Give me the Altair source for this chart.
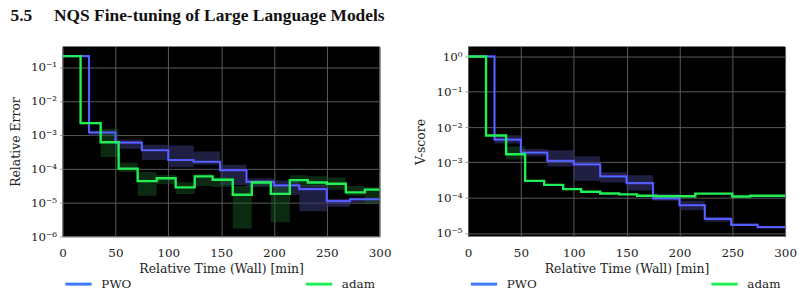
import altair as alt
import pandas as pd

# ---------------- data ----------------
series_names = ["PWO", "adam"]

# Relative Error panel
err_pwo_t = [0, 25, 50, 75, 100, 124, 149, 174, 200, 224, 250, 272, 300]
err_pwo_y = [0.21, 1.17e-3, 5.9e-4, 3.5e-4, 1.8e-4, 1.6e-4, 9e-5, 4.1e-5, 3.2e-5, 2.5e-5, 1.1e-5, 1.25e-5, 1.25e-5]
err_pwo_lo = [0.2, 9.2e-4, 3.9e-4, 1.8e-4, 1.1e-4, 1.3e-4, 3.3e-5, 2.9e-5, 1.7e-5, 5.5e-6, 7.5e-6, 1.0e-5, 1.0e-5]
err_pwo_hi = [0.22, 1.33e-3, 7.3e-4, 5.1e-4, 4.8e-4, 3.2e-4, 1.3e-4, 5.1e-5, 4.5e-5, 3.3e-5, 1.3e-5, 1.4e-5, 1.4e-5]

err_adam_t = [0, 17, 36, 53, 71, 89, 107, 125, 142, 161, 179, 197, 215, 232, 250, 268, 286, 300]
err_adam_y = [0.21, 2.2e-3, 6e-4, 1e-4, 4.3e-5, 5.2e-5, 2.8e-5, 5.9e-5, 4.7e-5, 1.7e-5, 3.9e-5, 1.8e-5, 4.6e-5, 3.9e-5, 3.6e-5, 2.0e-5, 2.4e-5, 2.4e-5]
err_adam_lo = [0.2, 2.0e-3, 2.2e-4, 8e-5, 1.6e-5, 3.5e-5, 1.8e-5, 3.1e-5, 2.9e-5, 1.7e-6, 3.2e-5, 2.6e-6, 3.1e-5, 3.0e-5, 2.4e-5, 1.6e-5, 9.4e-6, 9.4e-6]
err_adam_hi = [0.22, 2.4e-3, 1.5e-3, 1.5e-4, 8e-5, 6.5e-5, 4e-5, 7e-5, 5.6e-5, 3.1e-5, 4.6e-5, 3.1e-5, 6.4e-5, 6.0e-5, 5.5e-5, 3.1e-5, 2.9e-5, 2.9e-5]

# V-score panel
vs_pwo_t = [0, 25, 50, 75, 100, 125, 150, 175, 200, 224, 249, 274, 300]
vs_pwo_y = [1.0, 4.4e-3, 1.9e-3, 1.1e-3, 8.8e-4, 4e-4, 2.6e-4, 9.6e-5, 6.1e-5, 2.5e-5, 1.7e-5, 1.47e-5, 1.47e-5]
vs_pwo_lo = [0.95, 3.4e-3, 1.5e-3, 7.7e-4, 3e-4, 2.7e-4, 1.6e-4, 8.2e-5, 4.4e-5, 2.1e-5, 1.6e-5, 1.4e-5, 1.4e-5]
vs_pwo_hi = [1.05, 5.9e-3, 2.4e-3, 2.2e-3, 1.5e-3, 5.3e-4, 4.3e-4, 1.3e-4, 8.2e-5, 2.8e-5, 1.85e-5, 1.55e-5, 1.55e-5]

vs_adam_t = [0, 17, 36, 54, 72, 90, 107, 125, 143, 160, 178, 215, 250, 267, 300]
vs_adam_y = [1.0, 5.8e-3, 1.7e-3, 3e-4, 2.3e-4, 1.75e-4, 1.47e-4, 1.32e-4, 1.24e-4, 1.14e-4, 1.1e-4, 1.3e-4, 1.08e-4, 1.14e-4, 1.14e-4]
vs_adam_lo = [0.97, 5.5e-3, 1.2e-3, 2.8e-4, 2.2e-4, 1.65e-4, 1.4e-4, 1.27e-4, 1.19e-4, 1.1e-4, 1.06e-4, 1.24e-4, 1.04e-4, 1.1e-4, 1.1e-4]
vs_adam_hi = [1.03, 6.1e-3, 2.8e-3, 3.2e-4, 2.4e-4, 1.85e-4, 1.55e-4, 1.37e-4, 1.29e-4, 1.18e-4, 1.14e-4, 1.36e-4, 1.12e-4, 1.18e-4, 1.18e-4]

x_ticks = [0, 50, 100, 150, 200, 250, 300]
sup_labels = ["10\u207b\u2076", "10\u207b\u2075", "10\u207b\u2074", "10\u207b\u00b3", "10\u207b\u00b2", "10\u207b\u00b9", "10\u2070"]

# ---------------- style ----------------
SERIF = "DejaVu Serif, Liberation Serif, serif"
PURPLE = "#6a40ff"
GREEN = "#22ee55"


def frame(t, y, lo, hi, name):
    return pd.DataFrame({"t": t, "y": y, "lo": lo, "hi": hi, "series": name})


def panel(df_pwo, df_adam, ytitle, ydom, yvals):
    xs = alt.Scale(domain=[0, 300], nice=False, zero=False)
    ys = alt.Scale(type="log", domain=ydom, nice=False)
    cs = alt.Scale(domain=series_names, range=["#3d7cff", GREEN])
    x_enc = alt.X(
        "t:Q", scale=xs,
        axis=alt.Axis(values=x_ticks, title="Relative Time (Wall) [min]", grid=True,
                      labelFont=SERIF, labelFontSize=12, titleFont=SERIF, titleFontSize=12.5,
                      titleFontWeight="normal", labelColor="#222", titleColor="#222",
                      domain=False, ticks=False, labelPadding=11, titlePadding=4,
                      gridColor="#5a5a5a", gridWidth=1, labelFlush=False),
    )
    y_axis = alt.Axis(values=yvals, title=ytitle, grid=True,
                      labelExpr="%s[round(log(datum.value)/LN10)+6]" % str(sup_labels).replace('"', "'"),
                      labelFont=SERIF, labelFontSize=12, titleFont=SERIF, titleFontSize=12.5,
                      titleFontWeight="normal", labelColor="#222", titleColor="#222",
                      domain=False, ticks=True, tickSize=3, tickColor="#999", labelPadding=3,
                      titlePadding=8, gridColor="#5a5a5a", gridWidth=1)

    band_pwo = alt.Chart(df_pwo).mark_area(interpolate="step-after", color="#34346e", opacity=0.6, clip=True).encode(
        x=x_enc, y=alt.Y("lo:Q", scale=ys, axis=y_axis), y2="hi:Q")
    band_adam = alt.Chart(df_adam).mark_area(interpolate="step-after", color="#1a5e28", opacity=0.45, clip=True).encode(
        x=x_enc, y=alt.Y("lo:Q", scale=ys), y2="hi:Q")

    legend = alt.Legend(orient="none", legendX=1, legendY=224, direction="horizontal", columns=2,
                        columnPadding=168, title=None, symbolType="stroke", symbolStrokeWidth=3,
                        symbolSize=700, labelFont=SERIF, labelFontSize=12, labelColor="#222",
                        labelOffset=8)
    pwo_edge = alt.Chart(df_pwo).mark_line(interpolate="step-after", strokeWidth=2.2, color=PURPLE, clip=True).encode(
        x=x_enc, y=alt.Y("y:Q", scale=ys))
    pwo_core = alt.Chart(df_pwo).mark_line(interpolate="step-after", strokeWidth=1.0, clip=True).encode(
        x=x_enc, y=alt.Y("y:Q", scale=ys),
        color=alt.Color("series:N", scale=cs, legend=legend))
    adam_line = alt.Chart(df_adam).mark_line(interpolate="step-after", strokeWidth=2.4, clip=True).encode(
        x=x_enc, y=alt.Y("y:Q", scale=ys),
        color=alt.Color("series:N", scale=cs, legend=legend))

    return alt.layer(band_pwo, band_adam, pwo_edge, pwo_core, adam_line).properties(width=319, height=191)


left = panel(frame(err_pwo_t, err_pwo_y, err_pwo_lo, err_pwo_hi, "PWO"),
             frame(err_adam_t, err_adam_y, err_adam_lo, err_adam_hi, "adam"),
             "Relative Error", [1e-6, 0.4], [1e-6, 1e-5, 1e-4, 1e-3, 1e-2, 1e-1])
right = panel(frame(vs_pwo_t, vs_pwo_y, vs_pwo_lo, vs_pwo_hi, "PWO"),
              frame(vs_adam_t, vs_adam_y, vs_adam_lo, vs_adam_hi, "adam"),
              "V-score", [8e-6, 1.9], [1e-5, 1e-4, 1e-3, 1e-2, 1e-1, 1])

chart = alt.hconcat(left, right, spacing=23).resolve_scale(color="independent").properties(
    title=alt.TitleParams("5.5\u00a0\u00a0\u00a0\u00a0\u00a0NQS Fine-tuning of Large Language Models",
                          anchor="start", font="Liberation Serif", fontSize=17.5, fontWeight="bold",
                          color="#111", offset=22, dx=1),
    padding={"left": 9, "top": 6, "right": 5, "bottom": 0},
    background="white",
).configure_view(fill="black", stroke=None)

chart.save("out.html", embed_options={"renderer": "svg", "actions": False})
